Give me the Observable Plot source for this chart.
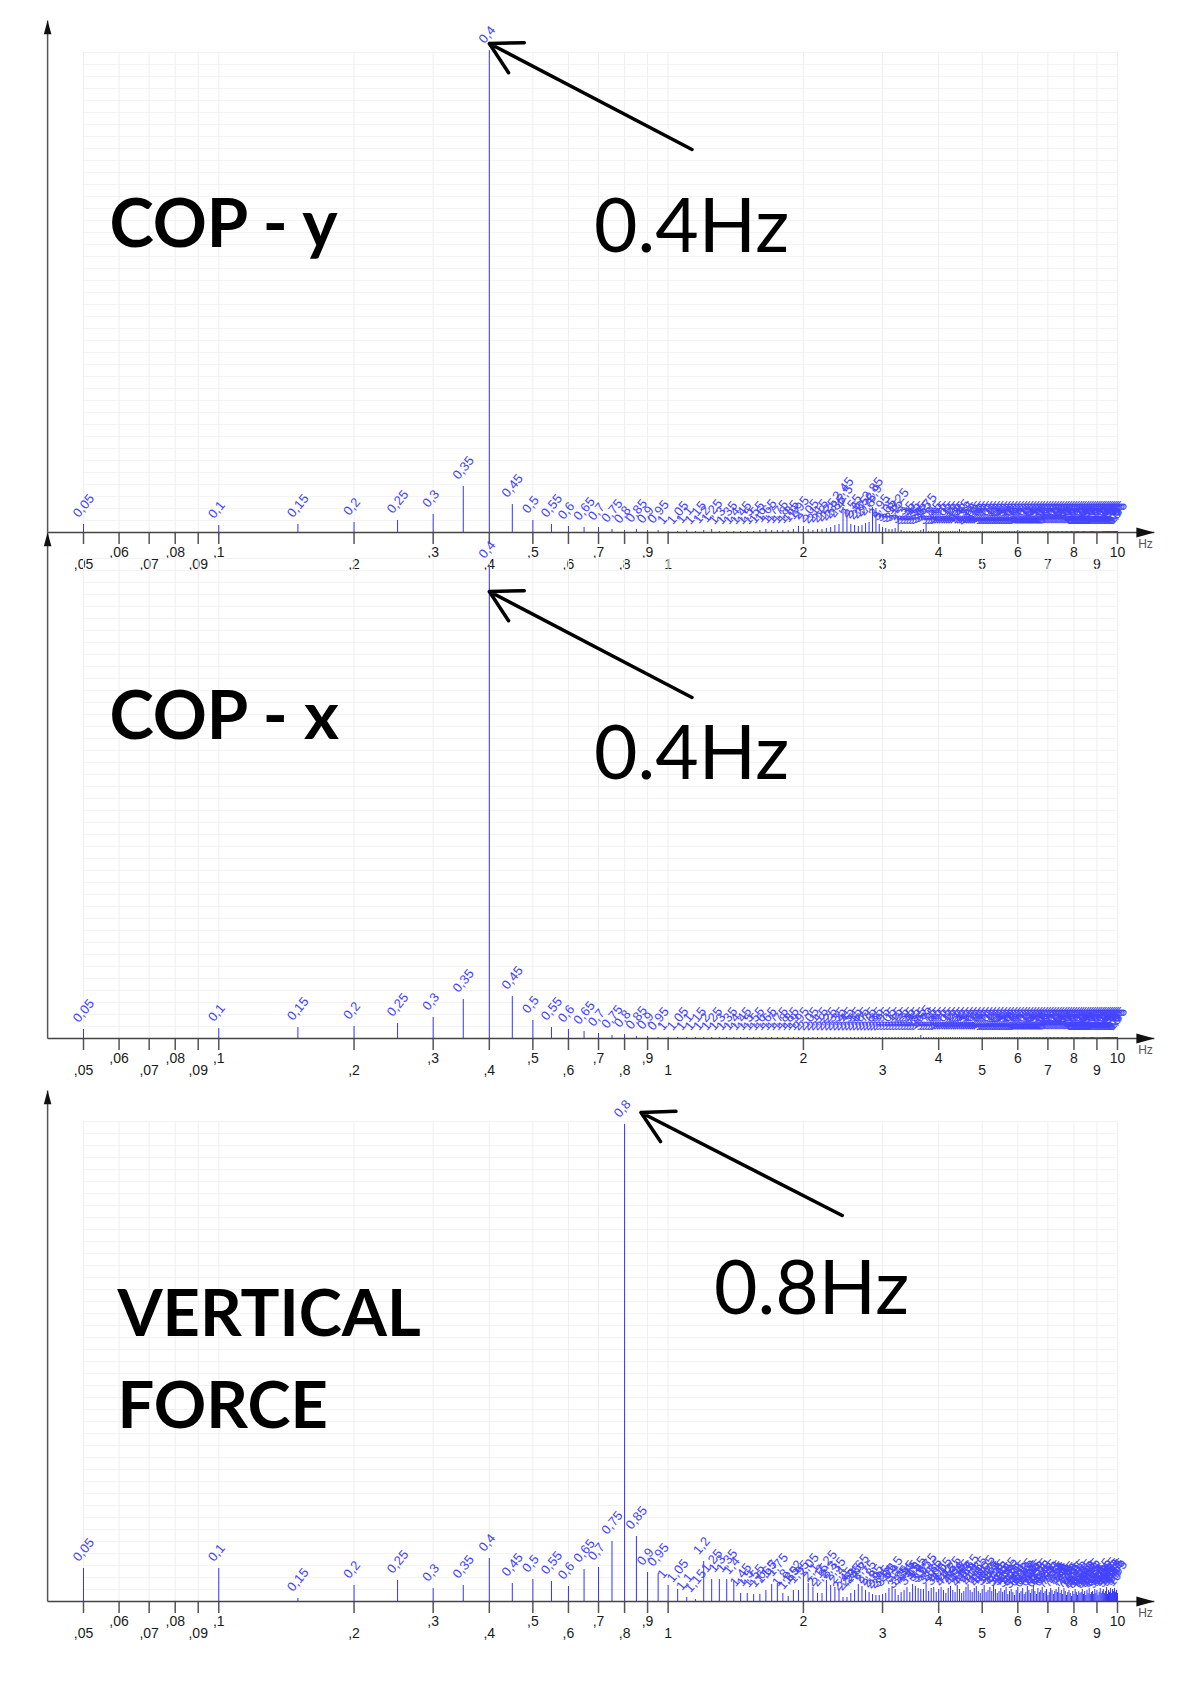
<!DOCTYPE html>
<html><head><meta charset="utf-8">
<script src="https://cdn.jsdelivr.net/npm/d3@7"></script>
<script src="https://cdn.jsdelivr.net/npm/@observablehq/plot@0.6"></script>
<style>
html,body{margin:0;padding:0;background:#fff;}
#fig{position:relative;width:1200px;height:1701px;background:#fff;overflow:hidden;}
#fig svg{position:absolute;left:0;}
</style></head><body><div id="fig"></div>
<script>
// ---- DATA ----
// FFT bins: 0.05 Hz resolution, 0.05 .. 10 Hz (200 bins)
const freqs = d3.range(1, 201).map(i => +(i * 0.05).toFixed(2));

// COP - y spectrum (amplitude, arbitrary units)
const copY = [
  8,7,8,10,12,18,46,482,28,12, 8,6,5,5,3,2,3,2,2,1,
  1,2,1,2,3,1,1,1,1,1, 1,2,3,2,2,2,2,3,6,6,
  3,2,3,3,4,5,7,8,25,23, 8,7,6,7,9,10,25,24,8,5,
  4,3,3,4,14,2,1,1,1,1, 1,1,2,3,9,1,1,1,1,1,
  1,1,1,1,1,1,1,1,3,1, 1,1,0,1,1,1,1,1,1,1,
  1,1,1,1,1,1,1,1,1,1, 1,1,1,1,1,1,1,1,1,2,
  1,1,1,1,1,1,1,1,1,1, 1,1,1,1,1,1,1,1,1,1,
  1,1,1,1,1,1,1,1,1,1, 1,1,1,1,1,1,1,1,1,1,
  1,1,1,1,1,1,1,1,1,1, 1,1,1,1,1,1,1,1,1,1,
  1,1,1,1,1,1,1,1,1,1, 1,1,1,1,1,1,1,1,1,1
];
// COP - x spectrum
const copX = [
  9,10,11,12,15,21,39,473,42,18, 11,9,7,5,3,4,2,2,1,1,
  1,1,1,1,1,1,1,1,1,1, 1,1,1,1,1,1,1,1,1,1,
  1,1,1,1,1,1,1,1,1,1, 1,1,1,1,1,1,1,1,1,1,
  1,1,1,1,1,1,1,1,1,1, 1,1,3,1,1,1,1,1,1,1,
  1,1,1,1,1,1,1,1,1,1, 1,1,1,1,1,1,1,1,1,1,
  1,1,1,1,1,1,1,1,1,1, 1,1,1,1,1,1,1,1,1,1,
  1,1,1,1,1,1,1,1,1,1, 1,1,1,1,1,1,1,1,1,1,
  1,1,1,1,1,1,1,1,1,1, 1,1,1,1,1,1,1,1,1,1,
  1,1,1,1,1,1,1,1,1,1, 1,1,1,1,1,1,1,1,1,1,
  1,1,1,1,1,1,1,1,1,1, 1,1,1,1,1,1,1,1,1,1
];
// Vertical force spectrum
const vForce = [
  33,33,3,16,21,13,16,43,18,22, 20,15,32,34,60,477,65,29,28,16,
  12,4,2,40,22,22,22,20,8,8, 7,7,11,17,18,8,5,11,11,25,
  18,14,8,8,21,16,14,11,4,4, 8,11,17,15,11,9,7,6,6,7,
  8,13,15,12,6,9,11,14,9,17, 15,13,12,12,18,
  10,13,14,9,12,14,11,8,13,15,
  11,9,16,12,8,10,14,17,11,9,
  13,15,10,8,12,16,9,11,14,10,
  16,12,8,10,13,9,11,14,7,10,
  12,9,6,11,14,8,10,13,7,9,
  15,11,8,12,16,10,7,13,9,11,
  14,8,10,12,6,9,13,11,7,10,
  12,9,14,8,11,7,13,10,6,9,
  11,8,5,10,7,12,9,6,10,8,
  9,12,7,10,6,11,8,13,7,9,
  10,7,12,8,11,6,9,13,8,10,
  12,8,10,14,7,11,9,13,8,12,
  10,13,9,11,8
];

// Axis ticks (log axis, labels alternate on two rows)
const allTicks = [0.05,0.06,0.07,0.08,0.09,0.1,0.2,0.3,0.4,0.5,0.6,0.7,0.8,0.9,1,2,3,4,5,6,7,8,9,10];
const tickRow1 = [0.06,0.08,0.1,0.3,0.5,0.7,0.9,2,4,6,8,10];
const tickRow2 = [0.05,0.07,0.09,0.2,0.4,0.6,0.8,1,3,5,7,9];

// Panel annotations (data coordinates: Hz, amplitude units)
const panels = [
  {values: copY, top: 0,    yAxisTop: 512, titleSize: 67,
   titles: [{x: 0.0571, y: 286, t: "COP - y"}],
   note: {x: 0.684, y: 281, t: "0.4Hz"},
   arrow: {x1: 1.13, y1: 383, x2: 0.4, y2: 489}},
  {values: copX, top: 506,  yAxisTop: 506, titleSize: 67,
   titles: [{x: 0.0571, y: 300, t: "COP - x"}],
   note: {x: 0.684, y: 260, t: "0.4Hz"},
   arrow: {x1: 1.13, y1: 341, x2: 0.4, y2: 447}},
  {values: vForce, top: 1069, yAxisTop: 511, titleSize: 65,
   titles: [{x: 0.0595, y: 266, t: "VERTICAL"}, {x: 0.0595, y: 174, t: "FORCE"}],
   note: {x: 1.265, y: 288, t: "0.8Hz"},
   arrow: {x1: 2.44, y1: 386, x2: 0.87, y2: 489}}
];
const axisExtent = {xStart: 0.0416, xEnd: 12.08};

// ---- DRAWING ----
const BLUE = "#3434ff";
const LBLUE = "#4444ff";
const fmtComma = f => String(+f.toFixed(2)).replace(".", ",");
const fmtTick = t => t < 1 ? String(t).replace("0.", ",") : String(t);
const headSym = {draw(ctx, size) {
  const r = Math.sqrt(size / Math.PI);
  ctx.moveTo(0, 0); ctx.lineTo(-3.6 * r, -r); ctx.lineTo(-3.6 * r, r); ctx.closePath();
}};
const hGrid = d3.range(12, 481, 12);

const fig = document.getElementById("fig");
for (const p of panels) {
  const data = freqs.map((f, i) => ({f, v: p.values[i], label: fmtComma(f)}));
  const svg = Plot.plot({
    width: 1200, height: 600,
    marginTop: 32, marginBottom: 68, marginLeft: 83, marginRight: 83,
    style: {background: "transparent", overflow: "visible", fontFamily: "'Liberation Sans', Arial, sans-serif"},
    x: {type: "log", domain: [0.05, 10]},
    y: {domain: [0, 500], axis: null},
    marks: [
      Plot.ruleY(hGrid, {x1: 0.05, x2: 10, stroke: "#f3f3f3", strokeWidth: 1}),
      Plot.ruleX(allTicks, {y1: 0, y2: 480, stroke: "#efefef", strokeWidth: 1}),
      Plot.axisX({ticks: allTicks, tickSize: 12, tickFormat: () => "", stroke: "#555", strokeWidth: 1.5}),
      Plot.text(tickRow1, {x: d => d, text: fmtTick, frameAnchor: "bottom", dy: 20, lineAnchor: "middle", fontSize: 14, fill: "#1a1a1a"}),
      Plot.text(tickRow2, {x: d => d, text: fmtTick, frameAnchor: "bottom", dy: 32, lineAnchor: "middle", fontSize: 14, fill: "#1a1a1a"}),
      Plot.ruleX(data, {x: "f", y1: 0, y2: "v", stroke: BLUE, strokeWidth: 1}),
      Plot.text(data, {x: "f", y: "v", text: "label", rotate: -50, textAnchor: "start", dx: -8, dy: -9, fill: LBLUE, fontSize: 13}),
      Plot.link([0], {x1: axisExtent.xStart, x2: axisExtent.xEnd, y1: 0, y2: 0, stroke: "#444", strokeWidth: 1.6}),
      Plot.dot([0], {x: axisExtent.xEnd, y: 0, symbol: headSym, r: 5, rotate: 0, fill: "#111", stroke: null}),
      Plot.link([0], {x1: axisExtent.xStart, x2: axisExtent.xStart, y1: 0, y2: p.yAxisTop, stroke: "#555", strokeWidth: 1.5}),
      Plot.dot([0], {x: axisExtent.xStart, y: p.yAxisTop, symbol: headSym, r: 3.8, rotate: -90, fill: "#111", stroke: null}),
      Plot.text(["Hz"], {x: 10, frameAnchor: "bottom", text: d => d, dx: 28, dy: 15, fontSize: 12, fill: "#555"}),
      Plot.text(p.titles, {x: "x", y: "y", text: "t", textAnchor: "start", lineAnchor: "bottom", fontFamily: "Lato", fontWeight: 700, fontSize: p.titleSize, fill: "#000"}),
      Plot.text([p.note], {x: "x", y: "y", text: "t", textAnchor: "start", lineAnchor: "bottom", fontFamily: "Lato", fontWeight: 400, fontSize: 75, fill: "#000"}),
      Plot.arrow([p.arrow], {x1: "x1", y1: "y1", x2: "x2", y2: "y2", stroke: "#000", strokeWidth: 3.5, headLength: 15, headAngle: 58})
    ]
  });
  svg.style.top = p.top + "px";
  fig.appendChild(svg);
}
</script></body></html>
